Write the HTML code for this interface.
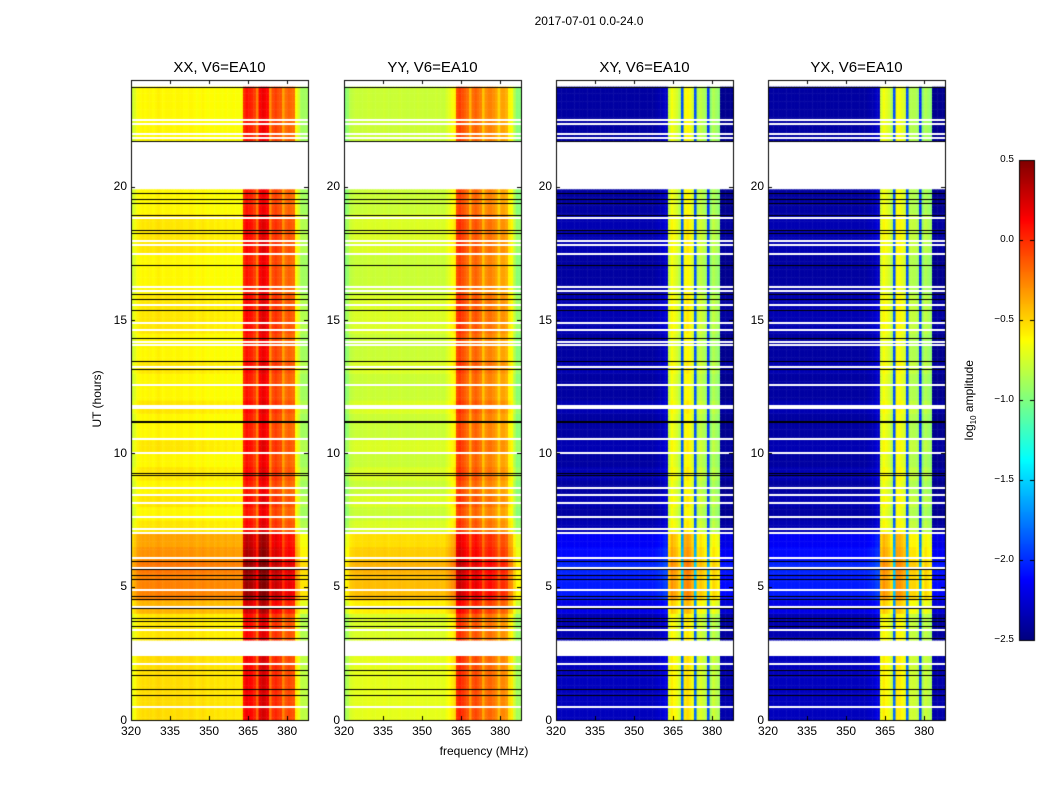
<!DOCTYPE html>
<html><head><meta charset="utf-8">
<style>
body{margin:0;background:#fff;}
#wrap{position:relative;width:1050px;height:800px;font-family:"Liberation Sans",sans-serif;color:#000;}
canvas{position:absolute;left:0;top:0;}
.t{position:absolute;white-space:nowrap;}
</style></head>
<body>
<div id="wrap">
<canvas id="cv" width="1050" height="800"></canvas>
<div class="t" style="left:0;width:1178px;text-align:center;top:14px;font-size:12px;">2017-07-01 0.0-24.0</div>
<div class="t" style="left:131px;width:177px;text-align:center;top:59px;font-size:15px;">XX, V6=EA10</div>
<div class="t" style="left:344px;width:177px;text-align:center;top:59px;font-size:15px;">YY, V6=EA10</div>
<div class="t" style="left:556px;width:177px;text-align:center;top:59px;font-size:15px;">XY, V6=EA10</div>
<div class="t" style="left:768px;width:177px;text-align:center;top:59px;font-size:15px;">YX, V6=EA10</div>
<div class="t" style="left:47px;top:392px;width:100px;text-align:center;font-size:12px;transform:rotate(-90deg);">UT (hours)</div>
<div class="t" style="left:384px;width:200px;text-align:center;top:744px;font-size:12px;">frequency (MHz)</div>
<div class="t" style="left:910px;top:392px;width:120px;text-align:center;font-size:12px;transform:rotate(-90deg);">log<sub style="font-size:8px">10</sub> amplitude</div>
<div id="labels"></div>
</div>
<script>
// ---- data ----
const freqs = [];
for (let f = 320; f < 388; f++) freqs.push(f);
const panelNames = ["xx","yy","xy","yx"];
const profXX = [-0.78,-0.72,-0.64,-0.62,-0.6,-0.62,-0.6,-0.6,-0.62,-0.6,-0.58,-0.6,-0.62,-0.6,-0.6,-0.6,-0.62,-0.6,-0.6,-0.6,-0.62,-0.62,-0.6,-0.6,-0.62,-0.64,-0.62,-0.6,-0.62,-0.64,-0.62,-0.62,-0.64,-0.62,-0.64,-0.64,-0.62,-0.64,-0.64,-0.62,-0.64,-0.64,-0.64,
  0.0,0.08,0.05,0.02,-0.05,-0.25,0.12,0.18,0.15,0.1,-0.3,-0.1,-0.05,-0.1,-0.12,-0.35,-0.2,-0.15,-0.18,-0.2,-0.65,-0.75,-0.9];
const profYY = [-0.98,-0.92,-0.82,-0.8,-0.78,-0.78,-0.79,-0.78,-0.78,-0.77,-0.78,-0.79,-0.78,-0.78,-0.78,-0.77,-0.78,-0.79,-0.78,-0.78,-0.78,-0.77,-0.78,-0.78,-0.79,-0.78,-0.78,-0.78,-0.77,-0.78,-0.78,-0.79,-0.78,-0.78,-0.78,-0.77,-0.78,-0.78,-0.79,-0.74,-0.7,-0.65,-0.6,
  -0.1,-0.05,-0.1,-0.15,-0.2,-0.4,-0.2,-0.15,-0.2,-0.25,-0.45,-0.3,-0.25,-0.25,-0.3,-0.35,-0.5,-0.35,-0.35,-0.4,-0.6,-0.65,-0.85,-0.98];
const profXY = [-2.4,-2.4,-2.4,-2.4,-2.4,-2.4,-2.4,-2.4,-2.4,-2.4,-2.4,-2.4,-2.4,-2.4,-2.4,-2.4,-2.4,-2.4,-2.4,-2.4,-2.4,-2.4,-2.4,-2.4,-2.4,-2.4,-2.4,-2.4,-2.4,-2.4,-2.4,-2.4,-2.4,-2.4,-2.4,-2.4,-2.4,-2.4,-2.38,-2.36,-2.35,-2.3,-2.3,
  -0.8,-0.65,-0.7,-0.75,-0.85,-1.9,-0.65,-0.6,-0.65,-0.75,-1.9,-0.85,-0.8,-0.85,-0.9,-2.0,-0.95,-0.85,-0.9,-0.95,-2.45,-2.45,-2.45,-2.45];
const profYX = [-2.4,-2.4,-2.4,-2.4,-2.4,-2.4,-2.4,-2.4,-2.4,-2.4,-2.4,-2.4,-2.4,-2.4,-2.4,-2.4,-2.4,-2.4,-2.4,-2.4,-2.4,-2.4,-2.4,-2.4,-2.4,-2.4,-2.4,-2.4,-2.4,-2.4,-2.4,-2.4,-2.4,-2.4,-2.4,-2.4,-2.4,-2.4,-2.38,-2.36,-2.35,-2.3,-2.3,
  -0.75,-0.65,-0.7,-0.75,-0.85,-1.9,-0.65,-0.65,-0.7,-0.75,-1.9,-0.85,-0.85,-0.85,-0.9,-2.0,-0.95,-0.85,-0.9,-0.95,-2.45,-2.45,-2.45,-2.45];
// half-hour offsets, 0h..24h
const timeOffset = [0.08,0.08,0.08,0.08,0.08,0.05,0.05,0.05,0.2,0.35,0.35,0.38,0.3,0.25,0.05,0,
  0.05,0,0.05,0,0.05,0,0,0.05,0,0,0.05,0,0,0.05,0.05,0.05,0,0,0,0.05,0.05,0.05,0,0,0,0,0,0,0,0,0,0];
const dataTop = 23.75;
const gaps = [[19.9,21.7],[2.4,3.03]];
const blackLines = [23.75,21.7,19.78,19.55,19.4,18.95,18.39,18.28,17.08,15.96,15.77,15.36,14.31,13.45,13.16,11.21,11.17,9.26,9.19,5.96,5.66,5.44,5.29,4.65,4.54,4.2,3.83,3.71,3.53,3.08,1.88,1.69,1.16,0.94];
const whiteLines = [22.5,22.36,21.98,21.84,18.84,17.98,17.83,17.49,16.22,16.1,15.58,14.87,14.61,14.16,14.08,13.24,12.56,11.78,11.7,10.54,10.01,8.7,8.44,8.14,7.61,7.18,7.01,6.08,5.7,4.88,4.24,3.38,2.1,0.49];
const xTicks = [320,335,350,365,380];
const yTicks = [0,5,10,15,20];
const cbTicks = [0.5,0.0,-0.5,-1.0,-1.5,-2.0,-2.5];
const cbLabels = ["0.5","0.0","\u22120.5","\u22121.0","\u22121.5","\u22122.0","\u22122.5"];

// ---- layout ----
const panelLeft = [131,344,556,768];
const PW = 177, PT = 80, PB = 720;
const fMin = 320, fMax = 388, tMin = 0, tMax = 24;
const vMin = -2.5, vMax = 0.5;
const xs = (p,f) => panelLeft[p] + (f - fMin) / (fMax - fMin) * PW;
const ys = t => PB - (t - tMin) / (tMax - tMin) * (PB - PT);
function jet(v){
  let x = Math.max(0, Math.min(1, (v - vMin) / (vMax - vMin)));
  const c = a => Math.max(0, Math.min(1, a));
  const r = c(1.5 - Math.abs(4*x - 3)), g = c(1.5 - Math.abs(4*x - 2)), b = c(1.5 - Math.abs(4*x - 1));
  return `rgb(${Math.round(r*255)},${Math.round(g*255)},${Math.round(b*255)})`;
}
const cv = document.getElementById('cv'), ctx = cv.getContext('2d');
const profiles = [profXX, profYY, profXY, profYX];
const dt = 0.1;
for (let p = 0; p < 4; p++) {
  const prof = profiles[p];
  for (let t = 0; t < dataTop - 1e-6; t += dt) {
    const tm = t + dt/2;
    if (gaps.some(g => tm > g[0] && tm < g[1])) continue;
    const off = timeOffset[Math.min(timeOffset.length-1, Math.floor(tm*2))];
    const y0 = ys(Math.min(t+dt, dataTop)), y1 = ys(t);
    for (let j = 0; j < freqs.length; j++) {
      ctx.fillStyle = jet(prof[j] + off);
      const x0 = xs(p, freqs[j]), x1 = xs(p, freqs[j] + 1);
      ctx.fillRect(x0, y0, x1 - x0 + 0.5, y1 - y0 + 0.5);
    }
  }
  const L = panelLeft[p];
  ctx.fillStyle = '#fff';
  whiteLines.forEach(t => ctx.fillRect(L, Math.round(ys(t)) - 1, PW, 2));
  ctx.fillStyle = '#000';
  blackLines.forEach(t => ctx.fillRect(L, Math.round(ys(t)), PW, 1));
  ctx.strokeStyle = '#000'; ctx.lineWidth = 1;
  ctx.strokeRect(L + 0.5, PT + 0.5, PW, PB - PT);
  xTicks.forEach(f => {
    const x = Math.round(xs(p, f)) + 0.5;
    ctx.beginPath(); ctx.moveTo(x, PB); ctx.lineTo(x, PB - 4); ctx.moveTo(x, PT); ctx.lineTo(x, PT + 4); ctx.stroke();
  });
  yTicks.forEach(t => {
    const y = Math.round(ys(t)) + 0.5;
    ctx.beginPath(); ctx.moveTo(L, y); ctx.lineTo(L + 4, y); ctx.moveTo(L + PW, y); ctx.lineTo(L + PW - 4, y); ctx.stroke();
  });
}
// colorbar
const CBL = 1019, CBW = 15, CBT = 160, CBB = 640;
for (let y = CBT; y < CBB; y++) {
  const v = vMax - (y - CBT + 0.5) / (CBB - CBT) * (vMax - vMin);
  ctx.fillStyle = jet(v); ctx.fillRect(CBL, y, CBW, 1);
}
ctx.strokeStyle = '#000'; ctx.strokeRect(CBL + 0.5, CBT + 0.5, CBW, CBB - CBT);
const cbY = v => CBB - (v - vMin) / (vMax - vMin) * (CBB - CBT);
cbTicks.forEach(v => {
  const y = Math.round(cbY(v)) + 0.5;
  ctx.beginPath(); ctx.moveTo(CBL, y); ctx.lineTo(CBL + 4, y); ctx.moveTo(CBL + CBW, y); ctx.lineTo(CBL + CBW - 4, y); ctx.stroke();
});
// labels
const lab = document.getElementById('labels');
function addText(txt, x, y, align, size, name){
  const d = document.createElement('div');
  d.className = 't';
  
  
  d.textContent = txt;
  d.style.fontSize = size + 'px';
  d.style.top = (y - size*0.6) + 'px';
  if (align === 'center') { d.style.left = (x - 40) + 'px'; d.style.width = '80px'; d.style.textAlign = 'center'; }
  else if (align === 'right') { d.style.left = (x - 80) + 'px'; d.style.width = '80px'; d.style.textAlign = 'right'; }
  else { d.style.left = x + 'px'; }
  lab.appendChild(d);
}
for (let p = 0; p < 4; p++) {
  xTicks.forEach(f => addText(String(f), xs(p, f), 731, 'center', 12, 'x-tick-label'));
  yTicks.forEach(t => addText(String(t), panelLeft[p] - 4, ys(t), 'right', 12, 'y-tick-label'));
}
cbTicks.forEach((v, i) => addText(cbLabels[i], CBL - 5, cbY(v), 'right', 10, 'colorbar-tick-label'));
</script>
</body></html>
